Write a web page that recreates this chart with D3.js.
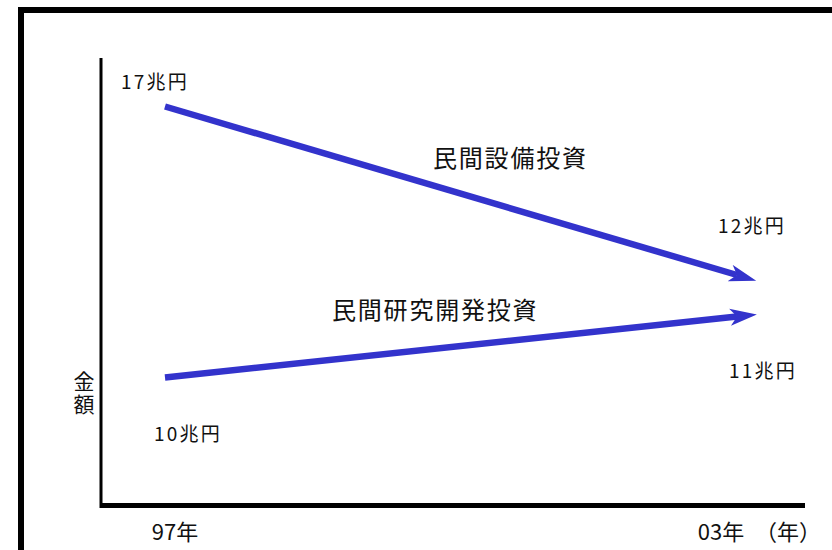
<!DOCTYPE html>
<html>
<head>
<meta charset="utf-8">
<script src="https://cdn.jsdelivr.net/npm/d3@7"></script>
<style>
  body { margin: 0; background: #fff; }
  text { font-family: "Noto Sans CJK JP", "Noto Sans", sans-serif; fill: #111; }
</style>
</head>
<body>
<script>
// data
const years = [1997, 2003];
const yearLabels = ["97年", "03年"];
const seriesNames = ["民間設備投資", "民間研究開発投資"];
const capex = [17, 12];   // 兆円
const rnd = [10, 11];     // 兆円
const unit = "兆円";
const axisTitleY = "金額";
const axisTitleX = "（年）";

const width = 832, height = 550;
const lineColor = "#3333cc";

const svg = d3.select("body").append("svg")
    .attr("width", width)
    .attr("height", height);

// outer frame (runs off the right and bottom edges)
svg.append("rect")
    .attr("x", 21).attr("y", 10)
    .attr("width", width).attr("height", height)
    .attr("fill", "none")
    .attr("stroke", "#000")
    .attr("stroke-width", 6);

// schematic scales: the picture is not drawn to scale, so y is piecewise
const x = d3.scaleLinear().domain(d3.extent(years)).range([165, 737]);
const xTick = d3.scaleLinear().domain(d3.extent(years)).range([175, 721]);
const y = d3.scaleLinear()
    .domain([10, 11, 12, 17])
    .range([377.5, 316.5, 275, 106.5]);

// axes (no ticks)
svg.append("line")
    .attr("x1", 101).attr("x2", 101)
    .attr("y1", 58).attr("y2", 508)
    .attr("stroke", "#000").attr("stroke-width", 3);
svg.append("line")
    .attr("x1", 100).attr("x2", 805)
    .attr("y1", 505.5).attr("y2", 505.5)
    .attr("stroke", "#000").attr("stroke-width", 5);

// arrow head marker
svg.append("defs").append("marker")
    .attr("id", "arrow")
    .attr("viewBox", "0 -9 28 18")
    .attr("markerUnits", "userSpaceOnUse")
    .attr("markerWidth", 28)
    .attr("markerHeight", 18)
    .attr("refX", 7)
    .attr("refY", 0)
    .attr("orient", "auto")
    .append("path")
    .attr("d", "M0,-8.5L27,0L0,8.5L7,0Z")
    .attr("fill", lineColor);

const series = [
  {name: seriesNames[0], values: capex, nameAt: [433, 167],
   offsets: [[-44, -18], [-19, -42]]},
  {name: seriesNames[1], values: rnd, nameAt: [332, 319],
   offsets: [[-11, 63], [-8, 61]]}
];

const line = d3.line()
    .x((d, i) => x(years[i]))
    .y(d => y(d));

svg.selectAll("path.series")
    .data(series)
    .join("path")
    .attr("class", "series")
    .attr("d", d => line(d.values))
    .attr("fill", "none")
    .attr("stroke", lineColor)
    .attr("stroke-width", 6.5)
    .attr("marker-end", "url(#arrow)");

// series names
svg.selectAll("text.name")
    .data(series)
    .join("text")
    .attr("class", "name")
    .attr("x", d => d.nameAt[0])
    .attr("y", d => d.nameAt[1])
    .attr("font-size", 24)
    .attr("letter-spacing", 1.8)
    .text(d => d.name);

// value labels
series.forEach(s => {
  svg.append("g").selectAll("text")
      .data(s.values)
      .join("text")
      .attr("x", (v, i) => x(years[i]) + s.offsets[i][0])
      .attr("y", (v, i) => y(v) + s.offsets[i][1])
      .attr("font-size", 19)
      .attr("letter-spacing", 2.2)
      .text(v => v + unit);
});

// x tick labels
svg.selectAll("text.tick")
    .data(years)
    .join("text")
    .attr("class", "tick")
    .attr("x", d => xTick(d))
    .attr("y", 540)
    .attr("text-anchor", "middle")
    .attr("font-size", 22)
    .text((d, i) => yearLabels[i]);

svg.append("text")
    .attr("x", 821)
    .attr("y", 540)
    .attr("text-anchor", "end")
    .attr("font-size", 22)
    .text(axisTitleX);

// vertical y title
svg.append("text")
    .attr("x", 84)
    .attr("y", 371)
    .attr("writing-mode", "vertical-rl")
    .attr("font-size", 21)
    .attr("letter-spacing", 2)
    .text(axisTitleY);
</script>
</body>
</html>
